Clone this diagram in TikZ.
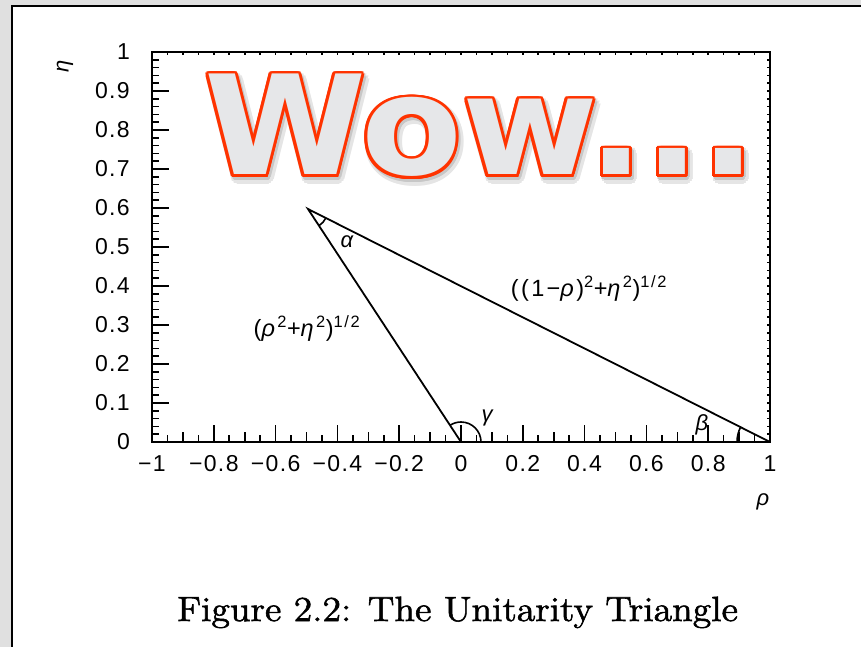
\documentclass[tikz,border=0pt]{standalone}
\usepackage{fontspec}
\usepackage{graphicx}
\newfontfamily\labfont{Liberation Sans}[LetterSpace=6]
\newfontfamily\formfont{Liberation Sans}[LetterSpace=10]
\newfontfamily\wowfont{DejaVu Sans}
\newfontfamily\capfont{lmroman12-regular.otf}[FakeBold=1.6]
\usetikzlibrary{calc}
\definecolor{bggray}{RGB}{224,224,224}
\definecolor{wowfill}{RGB}{230,231,233}
\definecolor{wowred}{RGB}{255,51,0}
\newcommand{\wowtext}{\scalebox{1.065}[1]{Wow...}}
\begin{document}
\begin{tikzpicture}[x=1pt,y=-1pt,
  ticklab/.style={font=\labfont\fontsize{23}{25}\selectfont, inner sep=0pt},
  greek/.style={font=\labfont\itshape\fontsize{22}{24}\selectfont, inner sep=0pt},
  formula/.style={font=\formfont\fontsize{23.5}{25}\selectfont, inner sep=0pt},
  wow/.style={font=\wowfont\bfseries\fontsize{138}{150}\selectfont, inner sep=0pt, anchor=base west},
  axisline/.style={line width=2.4pt},
  triline/.style={line width=1.8pt},
  tickline/.style={line width=1.6pt},
  arcline/.style={line width=1.6pt}]
\useasboundingbox (0,0) rectangle (861,647);
\fill[bggray] (0,0) rectangle (861,647);
\fill[white] (12,6) rectangle (861,647);
\draw[line width=2pt] (12,647) -- (12,6) -- (861,6);

% ticks on the bottom and top axes
\foreach \i in {0,...,40}{
  \pgfmathsetmacro\tx{152+15.45*\i}
  \pgfmathsetmacro\tl{ifthenelse(mod(\i,4)==0,17,ifthenelse(mod(\i,2)==0,10,7))}
  \draw[tickline] (\tx,442) -- (\tx,442-\tl);
  \draw[tickline] (\tx,52) -- (\tx,55);
}
% ticks on the left and right axes
\foreach \j in {0,...,50}{
  \pgfmathsetmacro\ty{442-7.8*\j}
  \pgfmathsetmacro\tl{ifthenelse(mod(\j,5)==0,17,7)}
  \draw[tickline] (152,\ty) -- (152+\tl,\ty);
  \draw[tickline] (770,\ty) -- (767,\ty);
}
\draw[axisline] (152,52) rectangle (770,442);

% tick labels
\foreach \k/\t in {0/0,1/0.1,2/0.2,3/0.3,4/0.4,5/0.5,6/0.6,7/0.7,8/0.8,9/0.9,10/1}{
  \node[ticklab, anchor=east] (yl\k) at (130,442-39*\k) {\t};
}
\foreach \k/\t in {0/−1,1/−0.8,2/−0.6,3/−0.4,4/−0.2,5/0,6/0.2,7/0.4,8/0.6,9/0.8,10/1}{
  \node[ticklab] (xl\k) at (152+61.8*\k,464) {\t};
}
\node[greek] (rholab) at (763,502) {ρ};
\node[greek, rotate=90] (etalab) at (65,66) {η};

% triangle
\coordinate (O) at (461,442);
\coordinate (A) at (308,209);
\coordinate (R) at (770,442);
\draw[triline] (O) -- (A) -- (R);
\draw[arcline] ([shift={(26.8:20)}]A) arc[start angle=26.8, end angle=56.7, radius=20];
\draw[arcline] ([shift={(0:20)}]O) arc[start angle=0, end angle=-123.3, radius=20];
\draw[arcline] ([shift={(180:33)}]R) arc[start angle=180, end angle=206.8, radius=33];

\node[greek] (alpha) at (347,242) {α};
\node[greek] (beta) at (702,425) {β};
\node[greek] (gamma) at (487,418) {γ};
\node[formula] (side1) at (307,328) {(\textit{ρ}\textsuperscript{2}+\textit{η}\textsuperscript{2})\textsuperscript{1/2}};
\node[formula] (side2) at (589,288) {((1−\textit{ρ})\textsuperscript{2}+\textit{η}\textsuperscript{2})\textsuperscript{1/2}};

% caption
\node[font=\capfont\fontsize{35}{40}\selectfont, inner sep=0pt, anchor=base] (caption) at (457.5,621)
  {\resizebox{561pt}{\height}{Figure 2.2: The Unitarity Triangle}};

% Wow... word art
\coordinate (W) at (204,175);
\foreach \a in {0,30,...,330}{
  \node[wow, text=black!10] at ($(W)+(3,4)+(\a:5)$) {\wowtext};
}
\foreach \a in {0,30,...,330}{
  \node[wow, text=black!22] at ($(W)+(2,3)+(\a:3)$) {\wowtext};
}
\foreach \a in {0,22.5,...,337.5}{
  \node[wow, text=wowred] at ($(W)+(\a:3)$) {\wowtext};
}
\node[wow, text=wowfill] (wow) at (W) {\wowtext};
\end{tikzpicture}
\end{document}
